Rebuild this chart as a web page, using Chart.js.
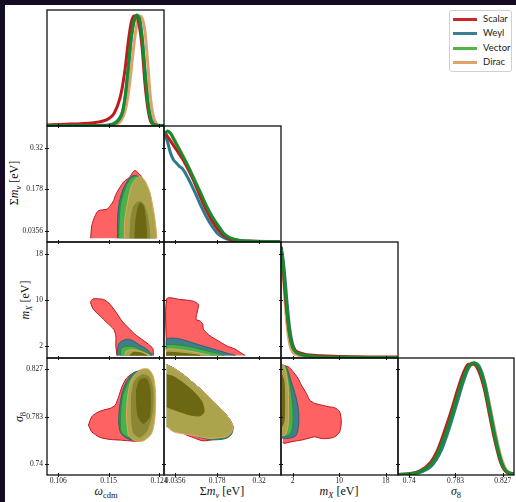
<!DOCTYPE html>
<html>
<head>
<meta charset="utf-8">
<title>Triangle plot</title>
<script src="https://cdn.jsdelivr.net/npm/chart.js@4.4.1/dist/chart.umd.min.js"></script>
<style>
  html, body { margin: 0; padding: 0; }
  body { position: relative; width: 516px; height: 502px; overflow: hidden; background: #140a23; }
  #sheet { position: absolute; left: 5px; top: 5px; width: 511px; height: 497px; background: #fff; }
  canvas { position: absolute; left: 0; top: 0; }
  .lab { position: absolute; font-family: 'Liberation Serif', 'DejaVu Serif', serif; font-size: 12px; color: #111; white-space: nowrap; transform: translate(-50%, -50%); line-height: 1; }
  .lab.rot { transform: translate(-50%, -50%) rotate(-90deg); }
  .lab sub { font-size: 8.5px; vertical-align: -3px; line-height: 0; }
  #legend { position: absolute; left: 449px; top: 10px; width: 61px; height: 60px; border: 1px solid #d0d0d0; border-radius: 3px; background: #fff; font-family: Lato, sans-serif; font-size: 9.5px; color: #222; }
  #legend .row { position: absolute; left: 0; width: 61px; height: 14px; }
  #legend .sw { position: absolute; left: 3px; top: 6px; width: 24px; height: 3px; }
  #legend .tx { position: absolute; left: 33px; top: 1px; }
</style>
</head>
<body>
<div id="sheet"></div>
<div class="lab" style="left:106px; top:491px;"><i>ω</i><sub>cdm</sub></div>
<div class="lab" style="left:222px; top:491px;">Σ<i>m</i><sub><i>ν</i></sub> [eV]</div>
<div class="lab" style="left:339px; top:491px;"><i>m</i><sub><i>X</i></sub> [eV]</div>
<div class="lab" style="left:456px; top:491px;"><i>σ</i><sub>8</sub></div>
<div class="lab rot" style="left:14px; top:183px;">Σ<i>m</i><sub><i>ν</i></sub> [eV]</div>
<div class="lab rot" style="left:25px; top:300px;"><i>m</i><sub><i>X</i></sub> [eV]</div>
<div class="lab rot" style="left:19px; top:417px;"><i>σ</i><sub>8</sub></div>
<div id="legend"></div>
<script>
// ---- data ----
const species = ['Scalar', 'Weyl', 'Vector', 'Dirac'];
const lineColors = ['#be1b21', '#2e7a8b', '#178b2c', '#dca46c'];
const legendColors = ['#c62828', '#3a7f8f', '#52b447', '#dca36c'];

const omegaTicks = [0.106, 0.115, 0.124];
const mnuTicks = [0.0356, 0.178, 0.32];
const mxTicks = [2, 10, 18];
const s8Ticks = [0.74, 0.783, 0.827];

const omegaRange = [0.1040, 0.1249];
const mnuRange = [-0.002, 0.394];
const mxRange = [0, 20.1];
const s8Range = [0.7295, 0.8375];

// 1D marginals (normalised)
const omegaGrid = [0.104, 0.106, 0.108, 0.110, 0.112, 0.113, 0.114, 0.115, 0.116, 0.117, 0.1175, 0.118, 0.1185, 0.119, 0.1195, 0.120, 0.1205, 0.121, 0.1215, 0.122, 0.1225, 0.123, 0.1235, 0.124, 0.125];
const omegaScalar = [0.005, 0.008, 0.012, 0.016, 0.022, 0.03, 0.04, 0.06, 0.11, 0.24, 0.36, 0.53, 0.75, 0.92, 0.99, 0.99, 0.9, 0.7, 0.38, 0.16, 0.04, 0.01, 0.003, 0, 0];
const omegaWeyl = [0, 0, 0, 0, 0, 0, 0.002, 0.005, 0.02, 0.07, 0.13, 0.27, 0.5, 0.76, 0.93, 0.99, 0.97, 0.8, 0.5, 0.22, 0.07, 0.015, 0.003, 0, 0];
const omegaVector = [0, 0, 0, 0, 0, 0, 0, 0.003, 0.012, 0.06, 0.12, 0.28, 0.52, 0.78, 0.94, 1.0, 0.96, 0.78, 0.48, 0.21, 0.06, 0.01, 0.002, 0, 0];
const omegaDirac = [0, 0, 0, 0, 0, 0, 0, 0, 0.005, 0.03, 0.07, 0.14, 0.28, 0.48, 0.72, 0.9, 0.99, 0.97, 0.85, 0.56, 0.24, 0.08, 0.02, 0.004, 0];

const mnuGrid = [0, 0.01, 0.02, 0.03, 0.04, 0.05, 0.06, 0.08, 0.10, 0.12, 0.14, 0.16, 0.18, 0.20, 0.22, 0.25, 0.30, 0.35, 0.39];
const mnuScalar = [0.99, 0.95, 0.91, 0.87, 0.83, 0.79, 0.75, 0.65, 0.54, 0.41, 0.29, 0.19, 0.11, 0.055, 0.022, 0.005, 0.001, 0, 0];
const mnuWeyl = [0.98, 0.9, 0.8, 0.74, 0.71, 0.68, 0.66, 0.57, 0.46, 0.34, 0.23, 0.14, 0.07, 0.035, 0.015, 0.003, 0, 0, 0];
const mnuVector = [0.97, 1.0, 0.98, 0.93, 0.88, 0.83, 0.78, 0.68, 0.56, 0.45, 0.33, 0.23, 0.15, 0.075, 0.035, 0.012, 0.002, 0, 0];
const mnuDirac = [0.96, 0.99, 0.98, 0.94, 0.89, 0.84, 0.79, 0.68, 0.57, 0.45, 0.33, 0.22, 0.14, 0.07, 0.032, 0.01, 0.002, 0, 0];

const mxGrid = [0, 0.25, 0.5, 0.75, 1.0, 1.5, 2, 2.5, 3, 4, 5, 6, 8, 10, 12, 15, 18, 20];
const mxScalar = [1.0, 0.88, 0.72, 0.56, 0.42, 0.2, 0.1, 0.06, 0.045, 0.03, 0.022, 0.017, 0.012, 0.009, 0.007, 0.005, 0.004, 0.003];
const mxWeyl = [1.0, 0.93, 0.82, 0.68, 0.52, 0.26, 0.12, 0.06, 0.035, 0.02, 0.012, 0.007, 0.003, 0.001, 0, 0, 0, 0];
const mxVector = [1.0, 0.9, 0.76, 0.6, 0.44, 0.2, 0.09, 0.05, 0.035, 0.022, 0.013, 0.008, 0.004, 0.002, 0.001, 0, 0, 0];
const mxDirac = [1.0, 0.85, 0.66, 0.47, 0.31, 0.12, 0.05, 0.03, 0.02, 0.012, 0.007, 0.004, 0.002, 0.001, 0, 0, 0, 0];

const s8Grid = [0.73, 0.74, 0.75, 0.76, 0.765, 0.77, 0.775, 0.78, 0.785, 0.79, 0.795, 0.80, 0.805, 0.81, 0.815, 0.82, 0.825, 0.83, 0.837];
const s8Scalar = [0, 0.006, 0.032, 0.11, 0.19, 0.31, 0.45, 0.6, 0.76, 0.9, 0.99, 0.99, 0.92, 0.76, 0.52, 0.29, 0.11, 0.025, 0.002];
const s8Weyl = [0, 0.002, 0.018, 0.07, 0.13, 0.22, 0.35, 0.5, 0.66, 0.82, 0.95, 1.0, 0.97, 0.83, 0.59, 0.34, 0.14, 0.03, 0.003];
const s8Vector = [0, 0.004, 0.025, 0.09, 0.16, 0.27, 0.4, 0.55, 0.71, 0.86, 0.97, 1.0, 0.95, 0.8, 0.56, 0.32, 0.13, 0.03, 0.003];
const s8Dirac = [0, 0.003, 0.02, 0.08, 0.15, 0.25, 0.38, 0.53, 0.69, 0.84, 0.96, 1.0, 0.97, 0.84, 0.62, 0.38, 0.17, 0.045, 0.005];

// 2D contours [x, y]
const omMnuScalar = [[0.1118,0.011],[0.1120,0.054],[0.1126,0.088],[0.1132,0.105],[0.1147,0.110],[0.1153,0.122],[0.1159,0.139],[0.1162,0.156],[0.1168,0.178],[0.1174,0.195],[0.1179,0.207],[0.1187,0.218],[0.1193,0.235],[0.1197,0.243],[0.1201,0.237],[0.1208,0.223],[0.1217,0.185],[0.1224,0.134],[0.1229,0.083],[0.1233,0.042],[0.1235,0.011]];
const omMnuWeyl = [[0.1166,0.011],[0.1166,0.076],[0.1169,0.133],[0.1176,0.178],[0.1185,0.210],[0.1193,0.224],[0.1200,0.224],[0.1209,0.212],[0.1218,0.178],[0.1227,0.122],[0.1231,0.054],[0.1233,0.011]];
const omMnuVector = [[0.1168,0.011],[0.1169,0.076],[0.1172,0.134],[0.1179,0.178],[0.1187,0.209],[0.1195,0.221],[0.1201,0.223],[0.1209,0.209],[0.1218,0.175],[0.1226,0.120],[0.1230,0.053],[0.1232,0.011]];
const omMnuDirac = [[0.1178,0.011],[0.1179,0.076],[0.1185,0.144],[0.1191,0.190],[0.1200,0.215],[0.1207,0.222],[0.1215,0.207],[0.1224,0.167],[0.1231,0.099],[0.1235,0.042],[0.1236,0.011]];
const omMnuInner = [[0.1188,0.011],[0.1190,0.076],[0.1195,0.120],[0.1203,0.135],[0.1211,0.131],[0.1218,0.099],[0.1222,0.054],[0.1224,0.011]];
const omMnuCore = [[0.1197,0.011],[0.1199,0.076],[0.1203,0.116],[0.1207,0.131],[0.1212,0.120],[0.1216,0.076],[0.1218,0.011]];

const omMxScalar = [[0.1165,0.45],[0.1163,2.1],[0.1163,3.82],[0.1159,4.98],[0.1147,6.13],[0.1135,7.26],[0.1123,8.42],[0.1118,9.57],[0.1119,9.96],[0.1123,10.26],[0.1129,10.26],[0.1141,10.14],[0.1150,9.57],[0.1162,8.12],[0.1174,6.4],[0.1185,5.27],[0.1197,4.12],[0.1209,3.26],[0.1221,2.4],[0.1229,1.66],[0.1230,0.68],[0.1230,0.45]];
const omMxWeyl = [[0.1165,0.45],[0.1168,2.4],[0.1174,2.96],[0.1185,3.26],[0.1194,2.96],[0.1206,2.22],[0.1218,1.54],[0.1227,0.68],[0.1229,0.45]];
const omMxVector = [[0.1171,0.45],[0.1172,1.54],[0.1179,2.0],[0.1194,2.0],[0.1206,1.54],[0.1218,0.97],[0.1227,0.45]];
const omMxDirac = [[0.1179,0.45],[0.1182,1.24],[0.1194,1.42],[0.1209,1.07],[0.1224,0.45]];
const omMxCore = [[0.1188,0.45],[0.1194,0.97],[0.1209,0.85],[0.1218,0.45]];

const omS8Scalar = [[0.1114,0.7756],[0.1120,0.7833],[0.1129,0.7870],[0.1141,0.7895],[0.1153,0.7911],[0.1162,0.7941],[0.1168,0.8018],[0.1174,0.8111],[0.1182,0.8189],[0.1194,0.8236],[0.1203,0.8250],[0.1215,0.8238],[0.1224,0.8173],[0.1229,0.8034],[0.1231,0.7895],[0.1228,0.7756],[0.1220,0.7654],[0.1206,0.7607],[0.1188,0.7610],[0.1171,0.7617],[0.1153,0.7623],[0.1135,0.7642],[0.1120,0.7694],[0.1114,0.7756]];
const omS8Weyl = [[0.1168,0.7774],[0.1169,0.7895],[0.1174,0.8050],[0.1182,0.8158],[0.1194,0.8236],[0.1206,0.8257],[0.1217,0.8229],[0.1226,0.8146],[0.1230,0.8016],[0.1230,0.7876],[0.1224,0.7756],[0.1212,0.7663],[0.1194,0.7617],[0.1179,0.7644],[0.1171,0.7691],[0.1168,0.7774]];
const omS8Vector = [[0.1171,0.7774],[0.1172,0.7895],[0.1176,0.8043],[0.1185,0.8150],[0.1195,0.8224],[0.1206,0.8243],[0.1216,0.8215],[0.1224,0.8136],[0.1228,0.8016],[0.1228,0.7886],[0.1222,0.7765],[0.1211,0.7677],[0.1194,0.7630],[0.1180,0.7654],[0.1172,0.7700],[0.1171,0.7774]];
const omS8Dirac = [[0.1185,0.7663],[0.1182,0.7833],[0.1184,0.8018],[0.1191,0.8173],[0.1206,0.8266],[0.1221,0.8273],[0.1230,0.8204],[0.1234,0.8050],[0.1233,0.7833],[0.1227,0.7679],[0.1212,0.7610],[0.1197,0.7610],[0.1185,0.7663]];
const omS8Inner = [[0.1191,0.8034],[0.1197,0.8164],[0.1210,0.8220],[0.1222,0.8201],[0.1229,0.8081],[0.1228,0.7876],[0.1219,0.7709],[0.1206,0.7644],[0.1195,0.7682],[0.1191,0.7821],[0.1191,0.8034]];
const omS8Core = [[0.1200,0.8081],[0.1206,0.8173],[0.1218,0.8180],[0.1224,0.8081],[0.1223,0.7833],[0.1212,0.7772],[0.1203,0.7833],[0.1200,0.7957],[0.1200,0.8081]];

const mnuMxScalar = [[0.0075,0.45],[0.0075,10.26],[0.0525,10.14],[0.0976,9.84],[0.1145,9.28],[0.1111,8.12],[0.1067,6.7],[0.1203,6.4],[0.1294,5.84],[0.1314,4.98],[0.1541,3.82],[0.1822,2.96],[0.2107,2.1],[0.2388,1.54],[0.2557,0.97],[0.2726,0.45]];
const mnuMxWeyl = [[0.0075,0.45],[0.0075,3.26],[0.0414,3.38],[0.0752,2.96],[0.1203,2.22],[0.1653,1.54],[0.2107,0.85],[0.2400,0.45]];
const mnuMxVector = [[0.0075,0.45],[0.0075,2.22],[0.0525,2.22],[0.0976,1.83],[0.1429,1.24],[0.1880,0.68],[0.2000,0.45]];
const mnuMxDirac = [[0.0075,0.45],[0.0075,1.54],[0.0525,1.42],[0.0976,1.07],[0.1541,0.45]];
const mnuMxCore = [[0.0075,0.45],[0.0075,0.97],[0.0525,0.85],[0.0976,0.60],[0.1200,0.45]];

const mnuS8Scalar = [[0.0075,0.8313],[0.0298,0.8282],[0.0637,0.8220],[0.0976,0.8143],[0.1314,0.8065],[0.1653,0.7972],[0.1991,0.7879],[0.2218,0.7802],[0.2290,0.7740],[0.2220,0.7679],[0.2049,0.7650],[0.1700,0.7625],[0.1429,0.7612],[0.1260,0.7612],[0.0976,0.7640],[0.0695,0.7670],[0.0525,0.7700],[0.0298,0.7725],[0.0075,0.7745]];
const mnuS8Weyl = [[0.0075,0.8313],[0.0298,0.8282],[0.0637,0.8220],[0.0976,0.8143],[0.1314,0.8065],[0.1653,0.7972],[0.1991,0.7879],[0.2220,0.7802],[0.2322,0.7740],[0.2270,0.7672],[0.2100,0.7635],[0.1850,0.7622],[0.1600,0.7620],[0.1300,0.7635],[0.0976,0.7660],[0.0525,0.7712],[0.0075,0.7745]];
const mnuS8Vector = [[0.0075,0.8313],[0.0298,0.8282],[0.0637,0.8220],[0.0976,0.8143],[0.1314,0.8065],[0.1653,0.7972],[0.1991,0.7879],[0.2215,0.7802],[0.2305,0.7740],[0.2250,0.7676],[0.2080,0.7640],[0.1830,0.7628],[0.1580,0.7626],[0.1290,0.7640],[0.0976,0.7665],[0.0525,0.7715],[0.0075,0.7745]];
const mnuS8Dirac = [[0.0075,0.8313],[0.0298,0.8282],[0.0637,0.8220],[0.0976,0.8143],[0.1314,0.8065],[0.1653,0.7972],[0.1991,0.7879],[0.2218,0.7802],[0.2310,0.7740],[0.2242,0.7679],[0.2049,0.7647],[0.1768,0.7638],[0.1541,0.7632],[0.1203,0.7647],[0.0864,0.7665],[0.0695,0.7672],[0.0525,0.7679],[0.0298,0.7694],[0.0075,0.7740]];
const mnuS8Core = [[0.0075,0.8220],[0.0298,0.8204],[0.0637,0.8143],[0.0976,0.8065],[0.1260,0.7972],[0.1338,0.7879],[0.1203,0.7842],[0.0864,0.7849],[0.0525,0.7879],[0.0187,0.7911],[0.0075,0.7926]];

const mxS8Scalar = [[0.33,0.8297],[1.19,0.8297],[2.05,0.8250],[2.91,0.8189],[3.48,0.8127],[4.34,0.8050],[4.92,0.7988],[5.78,0.7957],[6.92,0.7941],[8.07,0.7926],[9.22,0.7916],[10.08,0.7879],[10.36,0.7786],[10.08,0.7694],[9.22,0.7647],[8.07,0.7632],[6.92,0.7632],[5.78,0.7647],[4.63,0.7632],[3.48,0.7617],[2.34,0.7607],[1.19,0.7595],[0.50,0.7586],[0.33,0.7600]];
const mxS8Weyl = [[0.16,0.8313],[0.90,0.8297],[1.76,0.8158],[2.62,0.8004],[3.03,0.7879],[3.03,0.7756],[2.62,0.7663],[1.76,0.7638],[0.73,0.7632],[0.16,0.7638]];
const mxS8Vector = [[0.16,0.8313],[0.90,0.8282],[1.66,0.8096],[2.05,0.7911],[2.05,0.7756],[1.66,0.7679],[0.90,0.7654],[0.16,0.7663]];
const mxS8Dirac = [[0.16,0.8313],[0.62,0.8297],[1.19,0.8127],[1.31,0.7911],[1.19,0.7740],[0.73,0.7663],[0.16,0.7656]];
const mxS8Core = [[0.16,0.8220],[0.50,0.8158],[0.62,0.7941],[0.50,0.7786],[0.16,0.7740]];

// ---- layout / styles ----
const W = 516, H = 502;
const colX = [47, 164, 281, 398, 514];
const rowY = [10, 126, 242, 358, 475];
const peakRange = [-0.005, 1.045];
const fills = {
  scalar: ['#ff6262', '#b8141c'],
  weyl: ['#3f7e8c', '#2b6170'],
  vector: ['#46b34a', '#2d8a32'],
  dirac: ['#aca44c', '#e6a468'],
  inner: ['#8b8633', '#8b8633'],
  core: ['#6c6712', '#6c6712']
};

// frame + in/out ticks drawn through the panel's own scales
const framePlugin = {
  id: 'frame',
  afterDatasetsDraw(chart, args, opts) {
    const {ctx, chartArea: a, scales: {x, y}} = chart;
    ctx.save();
    ctx.strokeStyle = '#111';
    ctx.lineWidth = 1.3;
    ctx.strokeRect(a.left, a.top, a.right - a.left, a.bottom - a.top);
    ctx.lineWidth = 1;
    ctx.beginPath();
    x.ticks.forEach(t => {
      const px = Math.round(x.getPixelForValue(t.value)) + 0.5;
      ctx.moveTo(px, a.bottom - 2); ctx.lineTo(px, a.bottom + 2);
      if (opts.allSides) { ctx.moveTo(px, a.top - 2); ctx.lineTo(px, a.top + 2); }
    });
    y.ticks.forEach(t => {
      const py = Math.round(y.getPixelForValue(t.value)) + 0.5;
      ctx.moveTo(a.left - 2, py); ctx.lineTo(a.left + 2, py);
      if (opts.allSides) { ctx.moveTo(a.right - 2, py); ctx.lineTo(a.right + 2, py); }
    });
    ctx.stroke();
    ctx.restore();
  }
};
Chart.register(framePlugin);

function scale(range, ticks, labels, pos) {
  return {
    type: 'linear', position: pos, min: range[0], max: range[1],
    grid: { display: false, drawTicks: false },
    border: { display: false },
    ticks: {
      display: labels, autoSkip: false, maxRotation: 0, minRotation: 0,
      padding: pos === 'bottom' ? 2 : 4,
      color: '#222', font: { family: 'Liberation Serif', size: 7.5 },
      callback: v => String(v)
    },
    afterBuildTicks: s => { s.ticks = ticks.map(v => ({ value: v })); },
    afterFit: s => {
      if (pos === 'bottom') s.height = labels ? 14 : 0;
      else s.width = labels ? 36 : 0;
    }
  };
}

function contour(points, style) {
  const d = points.map(p => ({ x: p[0], y: p[1] }));
  return { data: d, showLine: true, fill: 'shape', backgroundColor: fills[style][0], borderColor: fills[style][1], borderWidth: 1, pointRadius: 0, tension: 0.25 };
}

function curve(grid, vals, k) {
  const d = grid.map((x, i) => ({ x: x, y: vals[i] }));
  return { data: d, showLine: true, fill: false, borderColor: lineColors[k], borderWidth: 3, pointRadius: 0, cubicInterpolationMode: 'monotone' };
}

function panel(col, row, xs, ys, datasets, allSides) {
  const canvas = document.createElement('canvas');
  canvas.width = W; canvas.height = H;
  document.body.appendChild(canvas);
  const n = datasets.length;
  datasets.forEach((d, i) => { d.order = n - i; });
  new Chart(canvas, {
    type: 'scatter',
    data: { datasets: datasets },
    options: {
      responsive: false, animation: false, devicePixelRatio: 1, events: [],
      layout: { padding: {
        left: colX[col] - (ys.labels ? 36 : 0),
        right: W - colX[col + 1],
        top: rowY[row],
        bottom: H - rowY[row + 1] - (xs.labels ? 14 : 0)
      } },
      scales: {
        x: scale(xs.range, xs.ticks, xs.labels, 'bottom'),
        y: scale(ys.range, ys.ticks, ys.labels, 'left')
      },
      plugins: { legend: { display: false }, tooltip: { enabled: false }, frame: { allSides: allSides } }
    }
  });
}

const om = { range: omegaRange, ticks: omegaTicks };
const mn = { range: mnuRange, ticks: mnuTicks };
const mx = { range: mxRange, ticks: mxTicks };
const s8 = { range: s8Range, ticks: s8Ticks };
const pk = { range: peakRange, ticks: [], labels: false };
const lab = (a, on) => Object.assign({}, a, { labels: on });

// 1D marginals: draw order Dirac, Weyl, Scalar, Vector
panel(0, 0, lab(om, false), pk, [curve(omegaGrid, omegaDirac, 3), curve(omegaGrid, omegaWeyl, 1), curve(omegaGrid, omegaScalar, 0), curve(omegaGrid, omegaVector, 2)], false);
panel(1, 1, lab(mn, false), pk, [curve(mnuGrid, mnuDirac, 3), curve(mnuGrid, mnuWeyl, 1), curve(mnuGrid, mnuScalar, 0), curve(mnuGrid, mnuVector, 2)], false);
panel(2, 2, lab(mx, false), pk, [curve(mxGrid, mxDirac, 3), curve(mxGrid, mxWeyl, 1), curve(mxGrid, mxScalar, 0), curve(mxGrid, mxVector, 2)], false);
panel(3, 3, lab(s8, true), pk, [curve(s8Grid, s8Dirac, 3), curve(s8Grid, s8Weyl, 1), curve(s8Grid, s8Scalar, 0), curve(s8Grid, s8Vector, 2)], false);

// 2D posteriors
panel(0, 1, lab(om, false), lab(mn, true), [contour(omMnuScalar, 'scalar'), contour(omMnuWeyl, 'weyl'), contour(omMnuVector, 'vector'), contour(omMnuDirac, 'dirac'), contour(omMnuInner, 'inner'), contour(omMnuCore, 'core')], true);
panel(0, 2, lab(om, false), lab(mx, true), [contour(omMxScalar, 'scalar'), contour(omMxWeyl, 'weyl'), contour(omMxVector, 'vector'), contour(omMxDirac, 'dirac'), contour(omMxCore, 'core')], true);
panel(0, 3, lab(om, true), lab(s8, true), [contour(omS8Scalar, 'scalar'), contour(omS8Weyl, 'weyl'), contour(omS8Vector, 'vector'), contour(omS8Dirac, 'dirac'), contour(omS8Inner, 'inner'), contour(omS8Core, 'core')], true);
panel(1, 2, lab(mn, false), lab(mx, false), [contour(mnuMxScalar, 'scalar'), contour(mnuMxWeyl, 'weyl'), contour(mnuMxVector, 'vector'), contour(mnuMxDirac, 'dirac'), contour(mnuMxCore, 'core')], true);
panel(1, 3, lab(mn, true), lab(s8, false), [contour(mnuS8Scalar, 'scalar'), contour(mnuS8Weyl, 'weyl'), contour(mnuS8Vector, 'vector'), contour(mnuS8Dirac, 'dirac'), contour(mnuS8Core, 'core')], true);
panel(2, 3, lab(mx, true), lab(s8, false), [contour(mxS8Scalar, 'scalar'), contour(mxS8Weyl, 'weyl'), contour(mxS8Vector, 'vector'), contour(mxS8Dirac, 'dirac'), contour(mxS8Core, 'core')], true);

// legend
const legend = document.getElementById('legend');
species.forEach((name, i) => {
  const row = document.createElement('div');
  row.className = 'row';
  row.style.top = (0.5 + i * 14.6) + 'px';
  row.innerHTML = '<div class="sw" style="background:' + legendColors[i] + '"></div><div class="tx">' + name + '</div>';
  legend.appendChild(row);
});
</script>
</body>
</html>
